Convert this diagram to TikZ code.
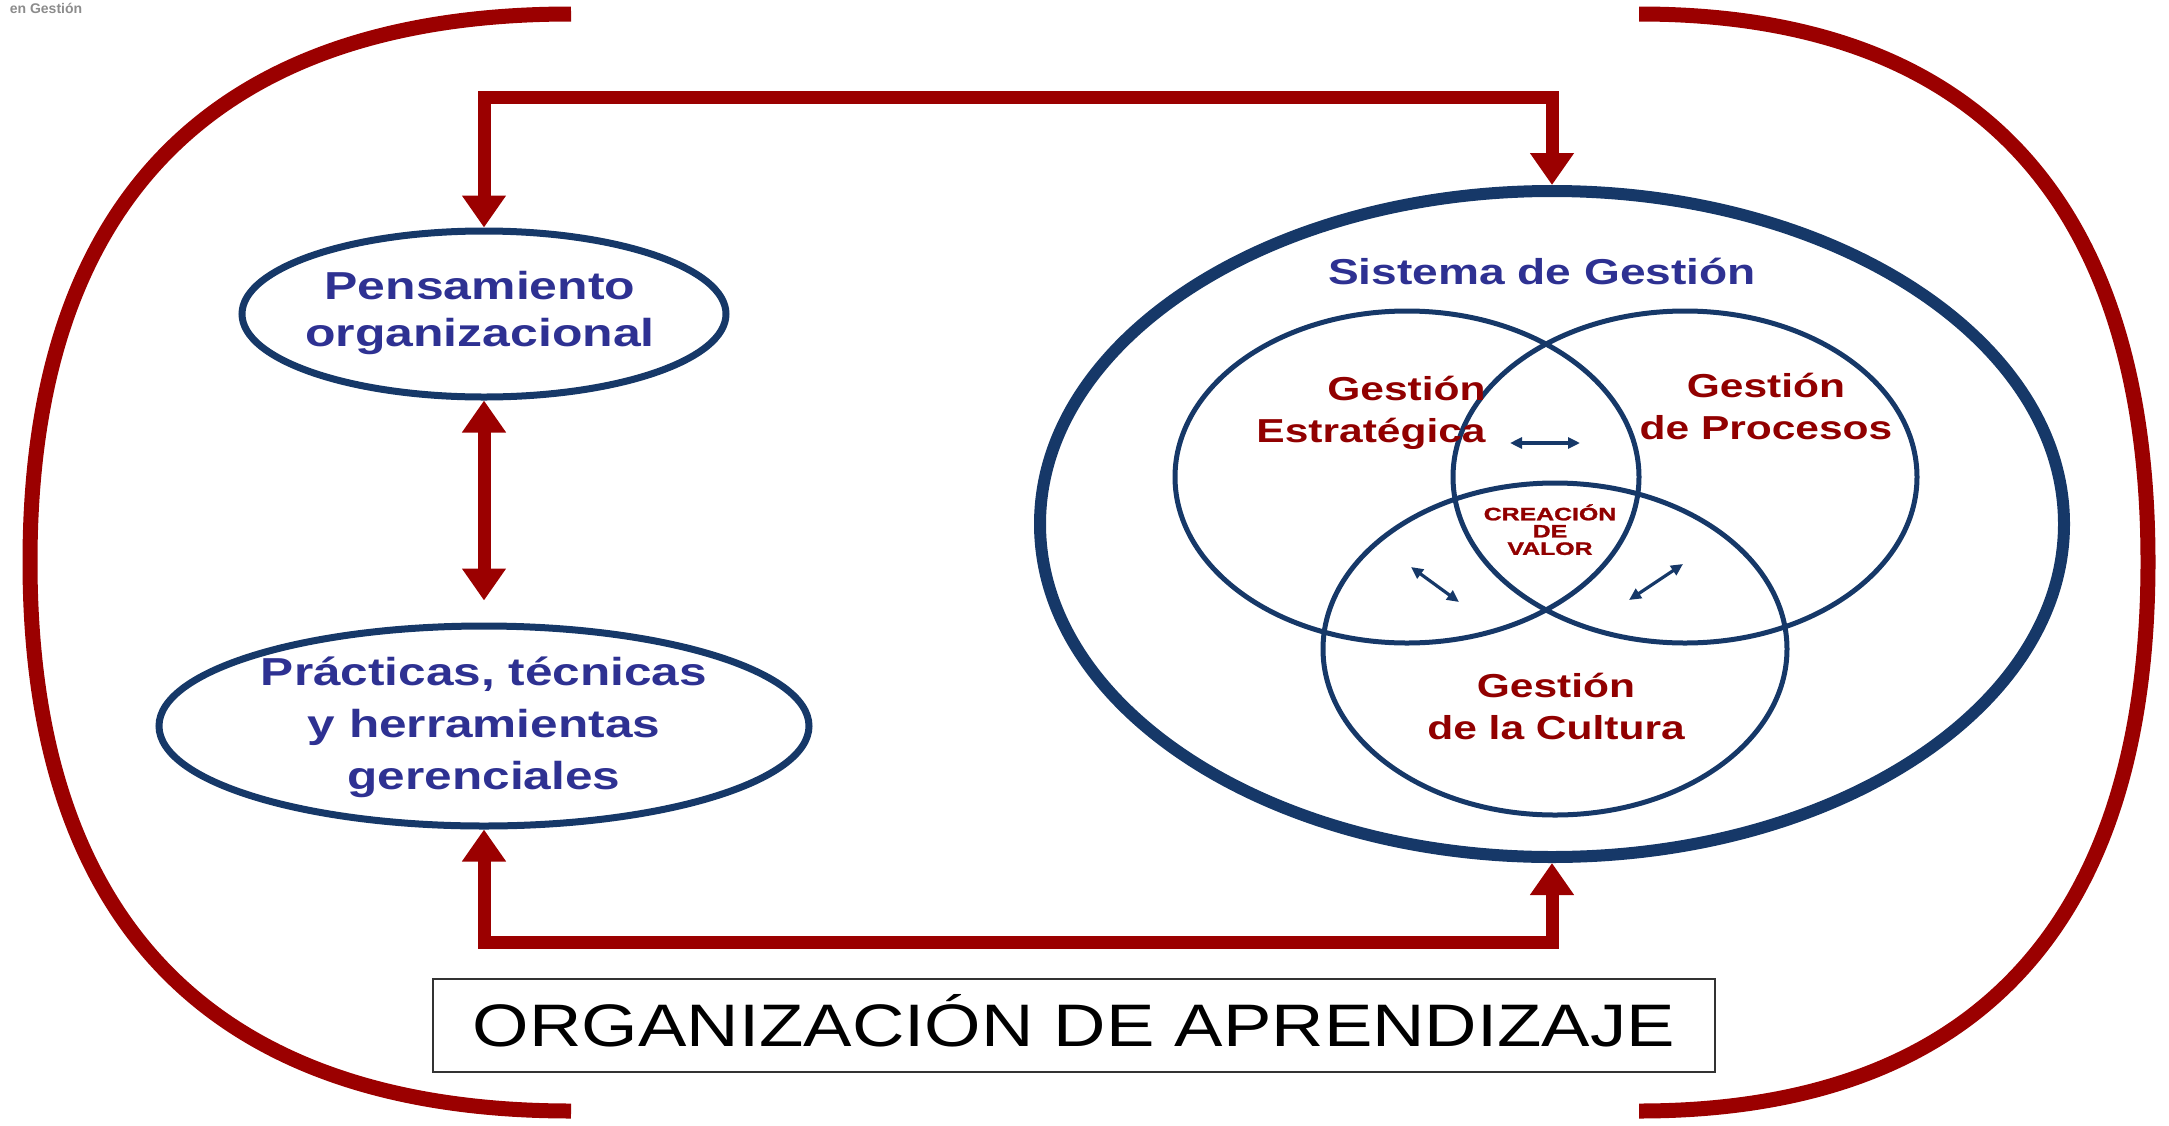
\documentclass[tikz,border=0pt]{standalone}
\usepackage{fontspec}
\setmainfont{Liberation Sans}
\newfontfamily\blackfont[FakeBold=1.2]{Liberation Sans}
\usetikzlibrary{shapes.geometric,arrows.meta}
\definecolor{bracketred}{RGB}{155,0,0}
\definecolor{navy}{RGB}{22,56,104}
\definecolor{txtblue}{RGB}{46,49,146}
\definecolor{txtred}{RGB}{145,0,0}
\newcommand\stretchtext[3]{\scalebox{#1}[1]{\begin{tabular}{@{}#2@{}}#3\end{tabular}}}
\begin{document}
\begin{tikzpicture}[x=0.5pt,y=-0.5pt,
  bracket/.style={draw=bracketred,line width=7.5pt},
  redboth/.style={draw=bracketred,line width=6.5pt,
    {Triangle[width=21pt,length=16pt]}-{Triangle[width=21pt,length=16pt]}},
  navyboth/.style={draw=navy,line width=1.6pt,
    {Triangle[width=5.5pt,length=6pt]}-{Triangle[width=5.5pt,length=6pt]}},
  blueell/.style={ellipse,draw=navy,line width=3.5pt,inner sep=0pt},
  venn/.style={ellipse,draw=navy,line width=2.5pt,inner sep=0pt,
    minimum width=232pt,minimum height=166pt},
  bluetext/.style={text=txtblue,inner sep=0pt},
  redtext/.style={text=txtred,inner sep=0pt,
    font=\bfseries\fontsize{16.6pt}{21pt}\selectfont}]
\useasboundingbox (0,0) rectangle (2169,1125);

% logo fragment
\node[text=black!45,font=\bfseries\fontsize{7pt}{8pt}\selectfont,inner sep=0pt] (logo) at (46,8) {en Gestión};

% outer brackets
\draw[bracket] (571,14) .. controls (215,14) and (30,200) .. (30,562)
  .. controls (30,924) and (215,1111) .. (571,1111);
\draw[bracket] (1639,14) .. controls (1975,14) and (2148,200) .. (2148,562)
  .. controls (2148,924) and (1975,1111) .. (1639,1111);

% left ellipses
\node[blueell,minimum width=242pt,minimum height=83pt] (pens) at (484,314) {};
\node[bluetext,font=\bfseries\fontsize{19.5pt}{23.5pt}\selectfont] (penst) at (480,314)
  {\stretchtext{1.28}{c}{Pensamiento\\organizacional}};
\node[blueell,minimum width=325pt,minimum height=100pt] (prac) at (484,726) {};
\node[bluetext,font=\bfseries\fontsize{19.5pt}{26pt}\selectfont] (pract) at (484,727)
  {\stretchtext{1.27}{c}{Prácticas, técnicas\\y herramientas\\gerenciales}};

% big ellipse
\node[ellipse,draw=navy,line width=6pt,inner sep=0pt,
  minimum width=512pt,minimum height=333pt] (sg) at (1552,524) {};
\node[bluetext,font=\bfseries\fontsize{18pt}{22pt}\selectfont] (sgt) at (1542,276)
  {\stretchtext{1.28}{c}{Sistema de Gestión}};

% Venn
\node[venn] (ve) at (1407,477) {};
\node[venn] (vp) at (1685,477) {};
\node[venn] (vc) at (1555,649) {};
\node[redtext,anchor=east] (vet) at (1486,413) {\stretchtext{1.28}{r}{Gestión\\Estratégica}};
\node[redtext] (vpt) at (1766,410) {\stretchtext{1.28}{c}{Gestión\\de Procesos}};
\node[redtext] (vct) at (1556,710) {\stretchtext{1.28}{c}{Gestión\\de la Cultura}};
\node[text=txtred,inner sep=0pt,
  font=\blackfont\bfseries\fontsize{9pt}{8pt}\selectfont] (cv) at (1550,532)
  {\stretchtext{1.38}{c}{CREACIÓN\\DE\\VALOR}};

% small arrows
\coordinate (a1) at (1510,443);
\coordinate (a2) at (1580,443);
\coordinate (b1) at (1411,567);
\coordinate (b2) at (1459,602);
\coordinate (c1) at (1683,564);
\coordinate (c2) at (1629,600);
\draw[navyboth] (a1) -- (a2);
\draw[navyboth] (b1) -- (b2);
\draw[navyboth] (c1) -- (c2);

% red connectors
\coordinate (topbar) at (1000,97);
\coordinate (botbar) at (1000,942);
\draw[redboth] (pens.north) |- (topbar) -| (sg.north);
\draw[redboth] (prac.south) |- (botbar) -| (sg.south);
\draw[redboth] (pens.south) -- ([yshift=11pt]prac.north);

% bottom title
\node[draw=black!80,line width=1pt,inner sep=0pt,
  minimum width=641pt,minimum height=46.5pt,
  text height=21.5pt,text depth=0pt,
  font=\fontsize{30pt}{34pt}\selectfont] (org) at (1074,1025)
  {\scalebox{1.21}[1]{ORGANIZACIÓN DE APRENDIZAJE}};
\end{tikzpicture}
\end{document}
